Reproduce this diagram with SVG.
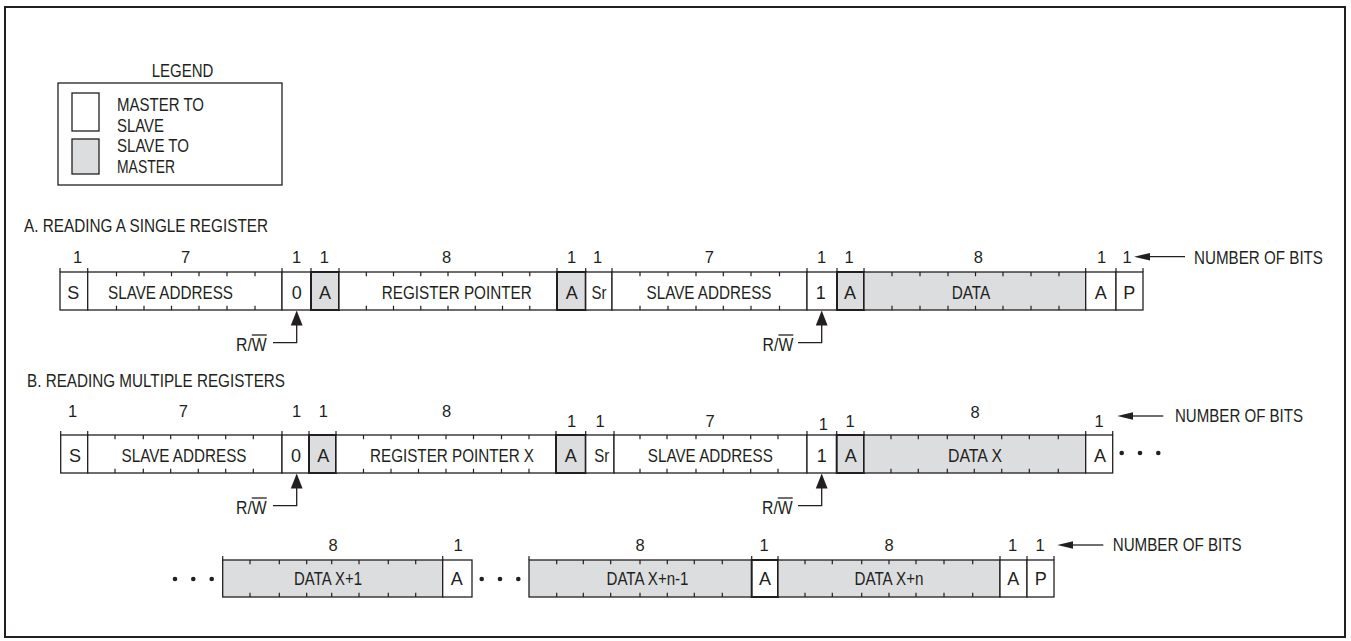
<svg xmlns="http://www.w3.org/2000/svg" width="1351" height="641" viewBox="0 0 1351 641">
<style>
.w{fill:#fff;stroke:#231f20;stroke-width:1.3}
.g{fill:#dcdddf;stroke:#231f20;stroke-width:1.3}
.ga{fill:#dcdddf;stroke:#231f20;stroke-width:2}
.wa{fill:#fff;stroke:#231f20;stroke-width:2}
.tk{stroke:#231f20;stroke-width:1.2;fill:none}
.ln{stroke:#231f20;stroke-width:1.3;fill:none}
.ah{fill:#231f20;stroke:none}
.dot{fill:#231f20}
text{font-family:"Liberation Sans",Arial,Helvetica,sans-serif;fill:#231f20}
.l{font-size:18px;text-anchor:middle}
.d{font-size:16.5px;text-anchor:middle}
.h{font-size:18px}
.r{font-size:18px;text-anchor:end}
</style>
<rect id="frame" x="5" y="7" width="1340" height="630" fill="#fff" stroke="#231f20" stroke-width="2"/>

<g id="legend">
<text class="l" x="182.5" y="76.7" textLength="61.6" lengthAdjust="spacingAndGlyphs">LEGEND</text>
<rect x="58" y="83" width="224" height="102" fill="none" stroke="#231f20" stroke-width="1.3"/>
<rect class="w" x="72" y="93" width="27" height="38"/>
<rect class="g" x="72" y="139" width="27" height="35"/>
<text class="h" x="117" y="111" textLength="87" lengthAdjust="spacingAndGlyphs">MASTER TO</text>
<text class="h" x="117" y="131.5" textLength="47" lengthAdjust="spacingAndGlyphs">SLAVE</text>
<text class="h" x="117" y="151.5" textLength="72" lengthAdjust="spacingAndGlyphs">SLAVE TO</text>
<text class="h" x="117" y="172.5" textLength="58" lengthAdjust="spacingAndGlyphs">MASTER</text>
</g>

<g id="headings">
<text class="h" x="24" y="231.5" textLength="244" lengthAdjust="spacingAndGlyphs">A. READING A SINGLE REGISTER</text>
<text class="h" x="27" y="387.3" textLength="258" lengthAdjust="spacingAndGlyphs">B. READING MULTIPLE REGISTERS</text>
</g>

<!-- Row A -->
<g id="rowA">
<g id="a-s"><rect class="w" x="60" y="272" width="27.7" height="38"/><path class="tk" d="M60 268v4M87.7 268v4"/><text class="l" x="73.3" y="298.5">S</text></g>
<g id="a-sa"><rect class="w" x="87.7" y="272" width="194.3" height="38"/><path class="tk" d="M116.5 272v4.3M144 272v4.3M171.5 272v4.3M199 272v4.3M227 272v4.3M255 272v4.3M116.5 310v-4.3M144 310v-4.3M171.5 310v-4.3M199 310v-4.3M227 310v-4.3M255 310v-4.3M282 268v4"/><text class="l" x="170.5" y="298.5" textLength="125" lengthAdjust="spacingAndGlyphs">SLAVE ADDRESS</text></g>
<g id="a-rw0"><rect class="w" x="282" y="272" width="29" height="38"/><path class="tk" d="M311 268v4"/><text class="l" x="296.7" y="298.5">0</text></g>
<g id="a-ack1"><rect class="ga" x="311" y="272" width="28" height="38"/><path class="tk" d="M339 268v4"/><text class="l" x="325" y="298.5">A</text></g>
<g id="a-rp"><rect class="w" x="339" y="272" width="218" height="38"/><path class="tk" d="M366.3 272v4.3M393.5 272v4.3M420.8 272v4.3M448 272v4.3M475.3 272v4.3M502.5 272v4.3M529.8 272v4.3M366.3 310v-4.3M393.5 310v-4.3M420.8 310v-4.3M448 310v-4.3M475.3 310v-4.3M502.5 310v-4.3M529.8 310v-4.3M557 268v4"/><text class="l" x="456.7" y="298.5" textLength="150" lengthAdjust="spacingAndGlyphs">REGISTER POINTER</text></g>
<g id="a-ack2"><rect class="ga" x="557" y="272" width="28.7" height="38"/><path class="tk" d="M585.7 268v4"/><text class="l" x="571.7" y="298.5">A</text></g>
<g id="a-sr"><rect class="w" x="585.7" y="272" width="26.3" height="38"/><path class="tk" d="M612 268v4"/><text class="l" x="599" y="298.5" textLength="15" lengthAdjust="spacingAndGlyphs">Sr</text></g>
<g id="a-sa2"><rect class="w" x="612" y="272" width="195" height="38"/><path class="tk" d="M640 272v4.3M668 272v4.3M696 272v4.3M723.3 272v4.3M751 272v4.3M779.5 272v4.3M640 310v-4.3M668 310v-4.3M696 310v-4.3M723.3 310v-4.3M751 310v-4.3M779.5 310v-4.3M807 268v4"/><text class="l" x="709" y="298.5" textLength="125" lengthAdjust="spacingAndGlyphs">SLAVE ADDRESS</text></g>
<g id="a-rw1"><rect class="w" x="807" y="272" width="30" height="38"/><path class="tk" d="M837 268v4"/><text class="l" x="820.7" y="298.5">1</text></g>
<g id="a-ack3"><rect class="ga" x="837" y="272" width="27" height="38"/><path class="tk" d="M864 268v4"/><text class="l" x="850" y="298.5">A</text></g>
<g id="a-data"><rect class="g" x="864" y="272" width="221.7" height="38"/><path class="tk" d="M892 272v4.3M920 272v4.3M948 272v4.3M975.5 272v4.3M1003 272v4.3M1031 272v4.3M1059 272v4.3M892 310v-4.3M920 310v-4.3M948 310v-4.3M975.5 310v-4.3M1003 310v-4.3M1031 310v-4.3M1059 310v-4.3M1085.7 268v4"/><text class="l" x="971" y="298.5" textLength="38.7" lengthAdjust="spacingAndGlyphs">DATA</text></g>
<g id="a-nack"><rect class="w" x="1085.7" y="272" width="30.3" height="38"/><path class="tk" d="M1116 268v4"/><text class="l" x="1100.7" y="298.5">A</text></g>
<g id="a-p"><rect class="w" x="1116" y="272" width="27" height="38"/><path class="tk" d="M1143 268v4"/><text class="l" x="1129.3" y="298.5">P</text></g>
<g id="a-bits">
<text class="d" x="77.5" y="262.7">1</text><text class="d" x="185.7" y="262.7">7</text><text class="d" x="296.7" y="262.7">1</text><text class="d" x="324.3" y="262.7">1</text><text class="d" x="446.7" y="262.7">8</text><text class="d" x="571.7" y="262.7">1</text><text class="d" x="597.7" y="262.7">1</text><text class="d" x="709.3" y="262.7">7</text><text class="d" x="821.7" y="262.7">1</text><text class="d" x="849" y="262.7">1</text><text class="d" x="978.3" y="262.7">8</text><text class="d" x="1101.7" y="262.7">1</text><text class="d" x="1127" y="262.7">1</text>
<text class="h" x="1194" y="263.5" textLength="129" lengthAdjust="spacingAndGlyphs">NUMBER OF BITS</text>
</g>
</g>

<!-- Row B -->
<g id="rowB">
<g id="b-s"><rect class="w" x="60.7" y="435" width="27" height="38"/><path class="tk" d="M60.7 431v4M87.7 431v4"/><text class="l" x="75" y="461.5">S</text></g>
<g id="b-sa"><rect class="w" x="87.7" y="435" width="194.3" height="38"/><path class="tk" d="M115 435v4.3M143.3 435v4.3M170.7 435v4.3M198.3 435v4.3M225.7 435v4.3M253.3 435v4.3M115 473v-4.3M143.3 473v-4.3M170.7 473v-4.3M198.3 473v-4.3M225.7 473v-4.3M253.3 473v-4.3M282 431v4"/><text class="l" x="184" y="461.5" textLength="125" lengthAdjust="spacingAndGlyphs">SLAVE ADDRESS</text></g>
<g id="b-rw0"><rect class="w" x="282" y="435" width="27" height="38"/><path class="tk" d="M309 431v4"/><text class="l" x="296" y="461.5">0</text></g>
<g id="b-ack1"><rect class="ga" x="309" y="435" width="27" height="38"/><path class="tk" d="M336 431v4"/><text class="l" x="323.3" y="461.5">A</text></g>
<g id="b-rp"><rect class="w" x="336" y="435" width="220" height="38"/><path class="tk" d="M363.5 435v4.3M391 435v4.3M418.5 435v4.3M446 435v4.3M473.5 435v4.3M501.5 435v4.3M529 435v4.3M363.5 473v-4.3M391 473v-4.3M418.5 473v-4.3M446 473v-4.3M473.5 473v-4.3M501.5 473v-4.3M529 473v-4.3M556 431v4"/><text class="l" x="452" y="461.5" textLength="164" lengthAdjust="spacingAndGlyphs">REGISTER POINTER X</text></g>
<g id="b-ack2"><rect class="ga" x="556" y="435" width="29.7" height="38"/><path class="tk" d="M585.7 431v4"/><text class="l" x="570.7" y="461.5">A</text></g>
<g id="b-sr"><rect class="w" x="585.7" y="435" width="28.3" height="38"/><path class="tk" d="M614 431v4"/><text class="l" x="601.7" y="461.5" textLength="15" lengthAdjust="spacingAndGlyphs">Sr</text></g>
<g id="b-sa2"><rect class="w" x="614" y="435" width="193" height="38"/><path class="tk" d="M640 435v4.3M667 435v4.3M696 435v4.3M723.3 435v4.3M750.7 435v4.3M778 435v4.3M640 473v-4.3M667 473v-4.3M696 473v-4.3M723.3 473v-4.3M750.7 473v-4.3M778 473v-4.3M807 431v4"/><text class="l" x="710.3" y="461.5" textLength="125" lengthAdjust="spacingAndGlyphs">SLAVE ADDRESS</text></g>
<g id="b-rw1"><rect class="w" x="807" y="435" width="29.7" height="38"/><path class="tk" d="M836.7 431v4"/><text class="l" x="821.7" y="461.5">1</text></g>
<g id="b-ack3"><rect class="ga" x="836.7" y="435" width="27.3" height="38"/><path class="tk" d="M864 431v4"/><text class="l" x="850.7" y="461.5">A</text></g>
<g id="b-data"><rect class="g" x="864" y="435" width="221.7" height="38"/><path class="tk" d="M891 435v4.3M918.3 435v4.3M947.3 435v4.3M974.3 435v4.3M1001.7 435v4.3M1029.3 435v4.3M1058.3 435v4.3M891 473v-4.3M918.3 473v-4.3M947.3 473v-4.3M974.3 473v-4.3M1001.7 473v-4.3M1029.3 473v-4.3M1058.3 473v-4.3M1085.7 431v4"/><text class="l" x="975" y="461.5" textLength="54" lengthAdjust="spacingAndGlyphs">DATA X</text></g>
<g id="b-ack4"><rect class="w" x="1085.7" y="435" width="27" height="38"/><path class="tk" d="M1112.7 431v4"/><text class="l" x="1100" y="461.5">A</text></g>
<g id="b-dots"><circle class="dot" cx="1121.7" cy="453" r="2.3"/><circle class="dot" cx="1140" cy="453" r="2.3"/><circle class="dot" cx="1158.3" cy="453" r="2.3"/></g>
<g id="b-bits">
<text class="d" x="72.5" y="417">1</text><text class="d" x="183.3" y="417">7</text><text class="d" x="296.7" y="417">1</text><text class="d" x="323.3" y="417">1</text><text class="d" x="446.7" y="417">8</text><text class="d" x="571.7" y="426.5">1</text><text class="d" x="600" y="426.5">1</text><text class="d" x="710" y="426.5">7</text><text class="d" x="823.3" y="429.5">1</text><text class="d" x="850" y="426.5">1</text><text class="d" x="975" y="418">8</text><text class="d" x="1099" y="426.5">1</text>
<text class="h" x="1175" y="421.7" textLength="128" lengthAdjust="spacingAndGlyphs">NUMBER OF BITS</text>
</g>
</g>

<!-- Row C -->
<g id="rowC">
<g id="c-dots1"><circle class="dot" cx="175" cy="579" r="2.3"/><circle class="dot" cx="193.3" cy="579" r="2.3"/><circle class="dot" cx="211.7" cy="579" r="2.3"/></g>
<g id="c-data1"><rect class="g" x="222.7" y="560" width="220" height="37"/><path class="tk" d="M222.7 556v4M250 560v4.3M279.3 560v4.3M306.7 560v4.3M331.7 560v4.3M359 560v4.3M388.3 560v4.3M415.7 560v4.3M250 597v-4.3M279.3 597v-4.3M306.7 597v-4.3M331.7 597v-4.3M359 597v-4.3M388.3 597v-4.3M415.7 597v-4.3M442.7 556v4"/><text class="l" x="328" y="585" textLength="68" lengthAdjust="spacingAndGlyphs">DATA X+1</text></g>
<g id="c-ack1"><rect class="w" x="442.7" y="560" width="29.3" height="37"/><text class="l" x="456.7" y="585">A</text></g>
<g id="c-dots2"><circle class="dot" cx="481.7" cy="579" r="2.3"/><circle class="dot" cx="500" cy="579" r="2.3"/><circle class="dot" cx="518.3" cy="579" r="2.3"/></g>
<g id="c-data2"><rect class="g" x="529" y="560" width="222.7" height="37"/><path class="tk" d="M529 556v4M556.7 560v4.3M583.3 560v4.3M610.7 560v4.3M640 560v4.3M667.3 560v4.3M694.3 560v4.3M722.3 560v4.3M556.7 597v-4.3M583.3 597v-4.3M610.7 597v-4.3M640 597v-4.3M667.3 597v-4.3M694.3 597v-4.3M722.3 597v-4.3M751.7 556v4"/><text class="l" x="647.5" y="585" textLength="82" lengthAdjust="spacingAndGlyphs">DATA X+n-1</text></g>
<g id="c-ack2"><rect class="wa" x="751.7" y="560" width="26.3" height="37"/><path class="tk" d="M778 556v4"/><text class="l" x="765" y="585">A</text></g>
<g id="c-data3"><rect class="g" x="778" y="560" width="222" height="37"/><path class="tk" d="M805 560v4.3M832.3 560v4.3M861.7 560v4.3M889 560v4.3M916 560v4.3M944 560v4.3M972.7 560v4.3M805 597v-4.3M832.3 597v-4.3M861.7 597v-4.3M889 597v-4.3M916 597v-4.3M944 597v-4.3M972.7 597v-4.3M1000 556v4"/><text class="l" x="889" y="585" textLength="69" lengthAdjust="spacingAndGlyphs">DATA X+n</text></g>
<g id="c-ack3"><rect class="w" x="1000" y="560" width="27" height="37"/><path class="tk" d="M1027 556v4"/><text class="l" x="1013.3" y="585">A</text></g>
<g id="c-p"><rect class="w" x="1027" y="560" width="27" height="37"/><path class="tk" d="M1054 556v4"/><text class="l" x="1040.7" y="585">P</text></g>
<g id="c-bits">
<text class="d" x="333" y="551">8</text><text class="d" x="458" y="551">1</text><text class="d" x="640" y="551">8</text><text class="d" x="764" y="551">1</text><text class="d" x="889" y="551">8</text><text class="d" x="1012.7" y="551">1</text><text class="d" x="1040" y="551">1</text>
<text class="h" x="1112.7" y="551" textLength="129" lengthAdjust="spacingAndGlyphs">NUMBER OF BITS</text>
</g>
</g>

<!-- Connectors -->
<g id="connectors">
<path class="ln" d="M1150 256.7H1185"/><polygon class="ah" points="1134,256.7 1150,253 1150,260.4"/>
<path class="ln" d="M1133 416H1163.3"/><polygon class="ah" points="1117.3,416 1133,412.3 1133,419.7"/>
<path class="ln" d="M1073 545H1103.3"/><polygon class="ah" points="1057.3,545 1073,541.3 1073,548.7"/>

<path class="ln" d="M296.7 325V342.7H273"/><polygon class="ah" points="296.7,310.5 290.8,325.5 302.6,325.5"/>
<path class="ln" d="M821.7 325V342.7H798"/><polygon class="ah" points="821.7,310.5 815.8,325.5 827.6,325.5"/>
<path class="ln" d="M296.7 488V505.7H273"/><polygon class="ah" points="296.7,473.5 290.8,488.5 302.6,488.5"/>
<path class="ln" d="M821.7 488V505.7H798"/><polygon class="ah" points="821.7,473.5 815.8,488.5 827.6,488.5"/>
</g>
<g id="rw-labels">
<text class="r" x="266.7" y="351" textLength="30.7" lengthAdjust="spacingAndGlyphs">R/W</text><path class="ln" d="M251.8 335H266.7"/>
<text class="r" x="793.3" y="351" textLength="30.7" lengthAdjust="spacingAndGlyphs">R/W</text><path class="ln" d="M778.4 335H793.3"/>
<text class="r" x="266.7" y="514" textLength="30.7" lengthAdjust="spacingAndGlyphs">R/W</text><path class="ln" d="M251.8 498H266.7"/>
<text class="r" x="792.7" y="514" textLength="30.7" lengthAdjust="spacingAndGlyphs">R/W</text><path class="ln" d="M777.8 498H792.7"/>
</g>
</svg>
